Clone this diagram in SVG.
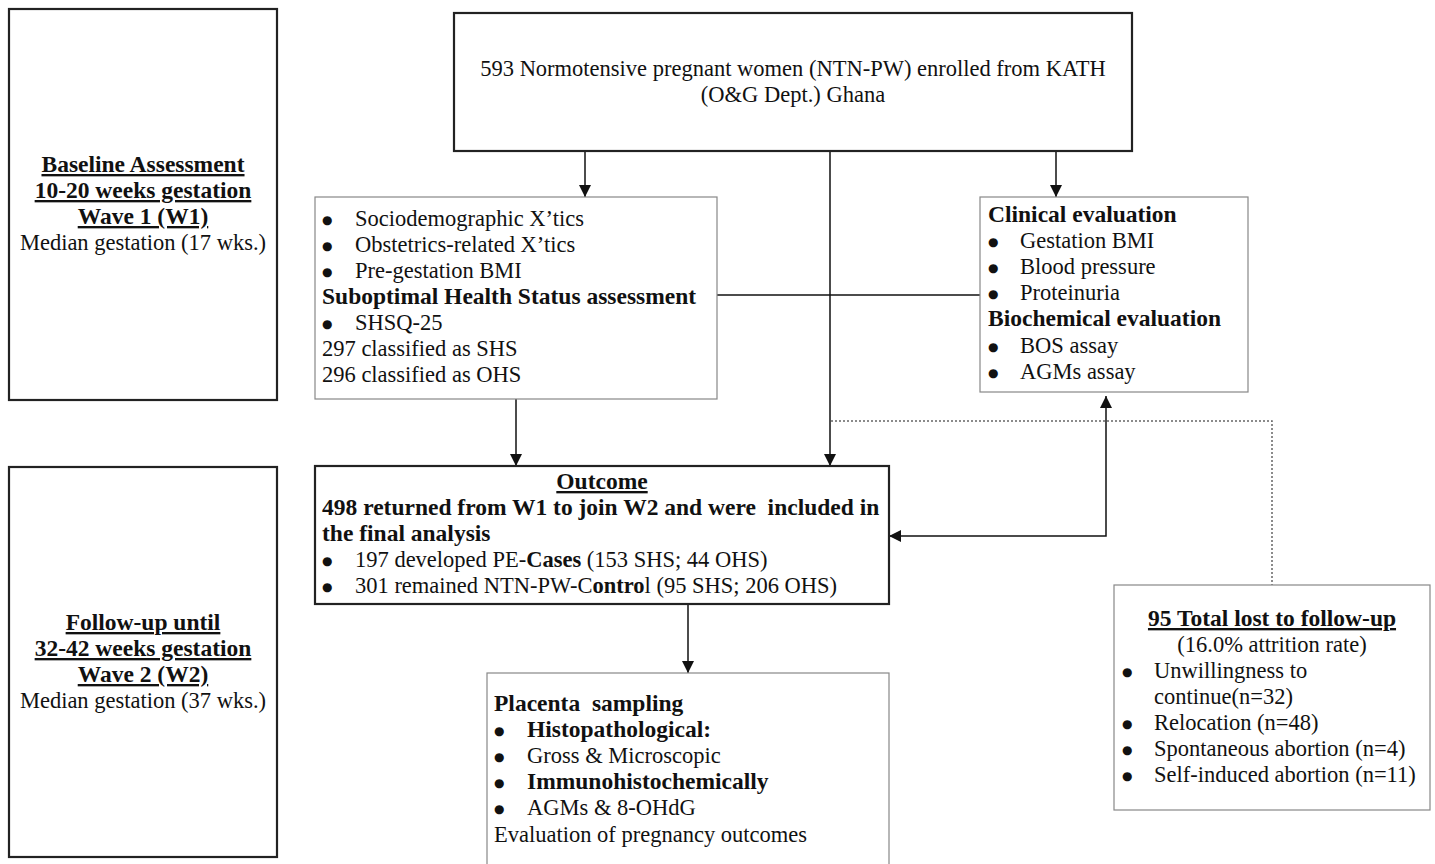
<svg xmlns="http://www.w3.org/2000/svg" width="1435" height="864" viewBox="0 0 1435 864">
<style>
text{font-family:"Liberation Serif","Times New Roman",serif;font-size:22.5px;fill:#111;}
.b{font-weight:bold;font-size:23.5px;}
tspan.b{font-size:22.5px;}
.u{text-decoration:underline;}
.c{text-anchor:middle;}
.bl{font-family:"DejaVu Sans",sans-serif;font-size:12px;}
.dark{fill:#fff;stroke:#222;stroke-width:2.2;}
.thin{fill:#fff;stroke:#888;stroke-width:1.2;}
.ln{fill:none;stroke:#111;stroke-width:1.5;}
.dot{fill:none;stroke:#666;stroke-width:1.5;stroke-dasharray:2 2;}
</style>
<defs>
<marker id="ah" markerUnits="userSpaceOnUse" markerWidth="12" markerHeight="16" viewBox="0 0 12 16" refX="12" refY="6" orient="auto">
<path d="M0,0 L12,6 L0,12 Z" fill="#111"/>
</marker>
<marker id="ahs" markerUnits="userSpaceOnUse" markerWidth="12" markerHeight="16" viewBox="0 0 12 16" refX="0" refY="6" orient="auto">
<path d="M12,0 L0,6 L12,12 Z" fill="#111"/>
</marker>
</defs>
<rect width="1435" height="864" fill="#fff"/>
<g id="connectors">
<line class="ln" x1="585" y1="151" x2="585" y2="197" marker-end="url(#ah)"/>
<line class="ln" x1="1056" y1="151" x2="1056" y2="197" marker-end="url(#ah)"/>
<line class="ln" x1="830" y1="151" x2="830" y2="466" marker-end="url(#ah)"/>
<line class="ln" x1="717" y1="295" x2="980" y2="295"/>
<line class="ln" x1="516" y1="399" x2="516" y2="466" marker-end="url(#ah)"/>
<line class="ln" x1="688" y1="604" x2="688" y2="673" marker-end="url(#ah)"/>
<polyline class="ln" points="1106,396 1106,536 889,536" marker-start="url(#ahs)" marker-end="url(#ah)"/>
<polyline class="dot" points="831,421 1272,421 1272,585"/>
</g>
<g id="baseline">
<rect class="dark" x="9" y="9" width="268" height="391"/>
<text class="b u c" x="143" y="172">Baseline Assessment</text>
<text class="b u c" x="143" y="198">10-20 weeks gestation</text>
<text class="b u c" x="143" y="224">Wave 1 (W1)</text>
<text class="c" x="143" y="250">Median gestation (17 wks.)</text>
</g>
<g id="followup">
<rect class="dark" x="9" y="467" width="268" height="390"/>
<text class="b u c" x="143" y="630">Follow-up until</text>
<text class="b u c" x="143" y="656">32-42 weeks gestation</text>
<text class="b u c" x="143" y="682">Wave 2 (W2)</text>
<text class="c" x="143" y="708">Median gestation (37 wks.)</text>
</g>
<g id="enrolled">
<rect class="dark" x="454" y="13" width="678" height="138"/>
<text class="c" x="793" y="76">593 Normotensive pregnant women (NTN-PW) enrolled from KATH</text>
<text class="c" x="793" y="102">(O&amp;G Dept.) Ghana</text>
</g>
<g id="sociodemographic">
<rect class="thin" x="315" y="197" width="402" height="202"/>
<text class="bl" x="322" y="224">●</text><text x="355" y="226">Sociodemographic X’tics</text>
<text class="bl" x="322" y="250">●</text><text x="355" y="252">Obstetrics-related X’tics</text>
<text class="bl" x="322" y="276">●</text><text x="355" y="278">Pre-gestation BMI</text>
<text class="b" x="322" y="304">Suboptimal Health Status assessment</text>
<text class="bl" x="322" y="328">●</text><text x="355" y="330">SHSQ-25</text>
<text x="322" y="356">297 classified as SHS</text>
<text x="322" y="382">296 classified as OHS</text>
</g>
<g id="clinical">
<rect class="thin" x="980" y="197" width="268" height="195"/>
<text class="b" x="988" y="222">Clinical evaluation</text>
<text class="bl" x="988" y="246">●</text><text x="1020" y="248">Gestation BMI</text>
<text class="bl" x="988" y="272">●</text><text x="1020" y="274">Blood pressure</text>
<text class="bl" x="988" y="298">●</text><text x="1020" y="300">Proteinuria</text>
<text class="b" x="988" y="326">Biochemical evaluation</text>
<text class="bl" x="988" y="351">●</text><text x="1020" y="353">BOS assay</text>
<text class="bl" x="988" y="377">●</text><text x="1020" y="379">AGMs assay</text>
</g>
<g id="outcome">
<rect class="dark" x="315" y="466" width="574" height="138"/>
<text class="b u c" x="602" y="489">Outcome</text>
<text class="b" x="322" y="515" xml:space="preserve">498 returned from W1 to join W2 and were  included in</text>
<text class="b" x="322" y="541">the final analysis</text>
<text class="bl" x="322" y="565">●</text><text x="355" y="567">197 developed PE-<tspan class="b">Cases</tspan> (153 SHS; 44 OHS)</text>
<text class="bl" x="322" y="591">●</text><text x="355" y="593">301 remained NTN-PW-C<tspan class="b">ontro</tspan>l (95 SHS; 206 OHS)</text>
</g>
<g id="placenta">
<rect class="thin" x="487" y="673" width="402" height="200"/>
<text class="b" x="494" y="711" xml:space="preserve">Placenta  sampling</text>
<text class="bl" x="494" y="735">●</text><text class="b" x="527" y="737">Histopathological:</text>
<text class="bl" x="494" y="761">●</text><text x="527" y="763">Gross &amp; Microscopic</text>
<text class="bl" x="494" y="787">●</text><text class="b" x="527" y="789">Immunohistochemically</text>
<text class="bl" x="494" y="813">●</text><text x="527" y="815">AGMs &amp; 8-OHdG</text>
<text x="494" y="842">Evaluation of pregnancy outcomes</text>
</g>
<g id="lost">
<rect class="thin" x="1114" y="585" width="316" height="225"/>
<text class="b u c" x="1272" y="626">95 Total lost to follow-up</text>
<text class="c" x="1272" y="652">(16.0% attrition rate)</text>
<text class="bl" x="1122" y="676">●</text><text x="1154" y="678">Unwillingness to</text>
<text x="1154" y="704">continue(n=32)</text>
<text class="bl" x="1122" y="728">●</text><text x="1154" y="730">Relocation (n=48)</text>
<text class="bl" x="1122" y="754">●</text><text x="1154" y="756">Spontaneous abortion (n=4)</text>
<text class="bl" x="1122" y="780">●</text><text x="1154" y="782">Self-induced abortion (n=11)</text>
</g>
</svg>
